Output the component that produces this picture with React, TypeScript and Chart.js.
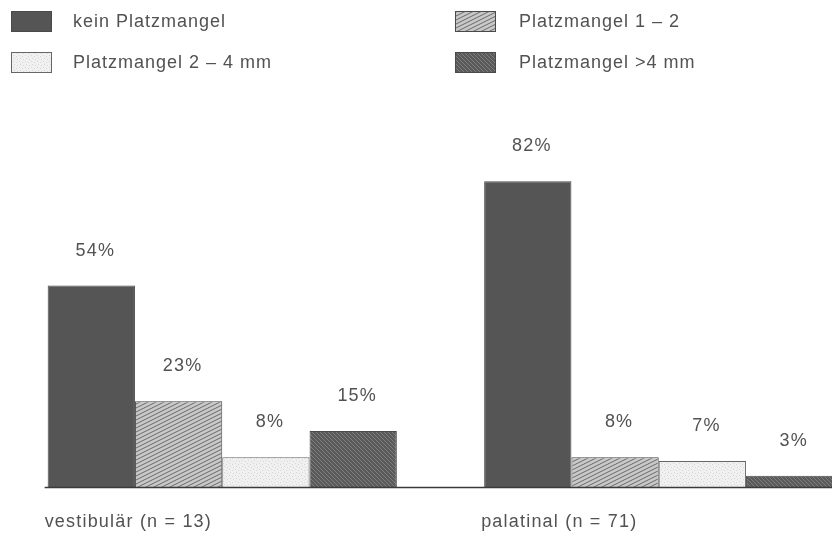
import React, { useEffect, useRef } from "react";
import { Chart, registerables } from "chart.js";

Chart.register(...registerables);

// Groups on the x axis and one value list per space-deficit class (percent)
const groups = ["vestibulär (n = 13)", "palatinal (n = 71)"];
const seriesNames = [
  "kein Platzmangel",
  "Platzmangel 1 – 2",
  "Platzmangel 2 – 4 mm",
  "Platzmangel >4 mm",
];
const keinPlatzmangel = [54, 82];
const platzmangel1bis2 = [23, 8];
const platzmangel2bis4 = [8, 7];
const platzmangelUeber4 = [15, 3];

const FONT = '"Liberation Sans", Arial, Helvetica, sans-serif';
const TEXT_COLOR = "#525252";

function makeTile(w: number, h: number, bg: string, draw: (c: CanvasRenderingContext2D) => void) {
  const tile = document.createElement("canvas");
  tile.width = w;
  tile.height = h;
  const c = tile.getContext("2d")!;
  c.fillStyle = bg;
  c.fillRect(0, 0, w, h);
  draw(c);
  const ctx = document.createElement("canvas").getContext("2d")!;
  return ctx.createPattern(tile, "repeat") as CanvasPattern;
}

function buildFills() {
  const solid = "#555555";
  // grey background with dense, shallow "///" hatching
  const hatchLight = makeTile(8, 4, "#c9c9c9", (c) => {
    c.strokeStyle = "#6a6a6a";
    c.lineWidth = 1;
    c.beginPath();
    for (let k = -1; k <= 1; k++) {
      c.moveTo(-2, 5 + 4 * k);
      c.lineTo(10, -1 + 4 * k);
    }
    c.stroke();
  });
  // pale stippled fill
  const stipple = makeTile(6, 6, "#f0f0f0", (c) => {
    c.fillStyle = "#d6d6d6";
    [[1, 1], [4, 2], [2, 4], [5, 5]].forEach(([x, y]) => c.fillRect(x, y, 1, 1));
  });
  // dark fill with fine "\\\" hatching
  const hatchDark = makeTile(4, 4, "#5a5a5a", (c) => {
    c.strokeStyle = "#828282";
    c.lineWidth = 0.9;
    c.beginPath();
    c.moveTo(-1, -1);
    c.lineTo(5, 5);
    c.moveTo(3, -1);
    c.lineTo(5, 1);
    c.moveTo(-1, 3);
    c.lineTo(1, 5);
    c.stroke();
  });
  return [solid, hatchLight, stipple, hatchDark];
}

const borderColors = ["#4a4a4a", "#4a4a4a", "#666666", "#4a4a4a"];

// Legend in two columns, drawn at the top of the canvas
const legendPlugin = {
  id: "gridLegend",
  afterDraw(chart: any) {
    const ctx = chart.ctx as CanvasRenderingContext2D;
    const slots = [
      { x: 11, y: 11, tx: 73 },
      { x: 455, y: 11, tx: 519 },
      { x: 11, y: 52, tx: 73 },
      { x: 455, y: 52, tx: 519 },
    ];
    ctx.save();
    ctx.font = `18px ${FONT}`;
    (ctx as any).letterSpacing = "1px";
    ctx.textBaseline = "middle";
    ctx.textAlign = "left";
    chart.data.datasets.forEach((ds: any, i: number) => {
      const s = slots[i];
      ctx.fillStyle = ds.backgroundColor;
      ctx.fillRect(s.x, s.y, 41, 21);
      ctx.strokeStyle = ds.borderColor;
      ctx.lineWidth = 1;
      ctx.strokeRect(s.x + 0.5, s.y + 0.5, 40, 20);
      ctx.fillStyle = TEXT_COLOR;
      ctx.fillText(ds.label, s.tx, s.y + 11);
    });
    ctx.restore();
  },
};

// Baseline, percentage labels above each bar, and group captions
const annotatePlugin = {
  id: "annotate",
  afterDatasetsDraw(chart: any) {
    const ctx = chart.ctx as CanvasRenderingContext2D;
    const yScale = chart.scales.y;
    const base = yScale.getPixelForValue(0);
    const first = chart.getDatasetMeta(0).data;

    ctx.save();
    ctx.strokeStyle = "#3a3a3a";
    ctx.lineWidth = 1.5;
    ctx.beginPath();
    ctx.moveTo(first[0].x - first[0].width / 2 - 3, base + 0.5);
    ctx.lineTo(chart.width, base + 0.5);
    ctx.stroke();

    ctx.font = `18px ${FONT}`;
    (ctx as any).letterSpacing = "1.2px";
    ctx.fillStyle = TEXT_COLOR;
    ctx.textBaseline = "middle";
    ctx.textAlign = "center";
    chart.data.datasets.forEach((ds: any, di: number) => {
      chart.getDatasetMeta(di).data.forEach((bar: any, i: number) => {
        ctx.fillText(`${ds.data[i]}%`, bar.x + 4, bar.y - 35);
      });
    });

    ctx.textAlign = "left";
    chart.data.labels.forEach((label: string, i: number) => {
      const bar = first[i];
      ctx.fillText(label, bar.x - bar.width / 2 - 3, base + 35);
    });
    ctx.restore();
  },
};

export default function App() {
  const canvasRef = useRef<HTMLCanvasElement | null>(null);

  useEffect(() => {
    const canvas = canvasRef.current;
    if (!canvas) return;
    const fills = buildFills();
    const seriesValues = [keinPlatzmangel, platzmangel1bis2, platzmangel2bis4, platzmangelUeber4];
    const chart = new Chart(canvas, {
      type: "bar",
      data: {
        labels: groups,
        datasets: seriesNames.map((name, i) => ({
          label: name,
          data: seriesValues[i],
          backgroundColor: fills[i] as any,
          borderColor: borderColors[i],
          borderWidth: 1,
          categoryPercentage: 0.8,
          barPercentage: 1,
        })),
      },
      options: {
        animation: false,
        responsive: false,
        devicePixelRatio: 1,
        layout: { padding: { top: 114, bottom: 47, left: 4, right: 3 } },
        scales: {
          x: { display: false },
          y: { display: false, min: 0, max: 100 },
        },
        plugins: {
          legend: { display: false },
          tooltip: { enabled: false },
        },
      },
      plugins: [legendPlugin, annotatePlugin],
    });
    return () => chart.destroy();
  }, []);

  return (
    <div
      style={{
        position: "absolute",
        left: 0,
        top: 0,
        width: 832,
        height: 534,
        overflow: "hidden",
        background: "#ffffff",
      }}
    >
      <canvas ref={canvasRef} width={880} height={534} style={{ display: "block" }} />
    </div>
  );
}
